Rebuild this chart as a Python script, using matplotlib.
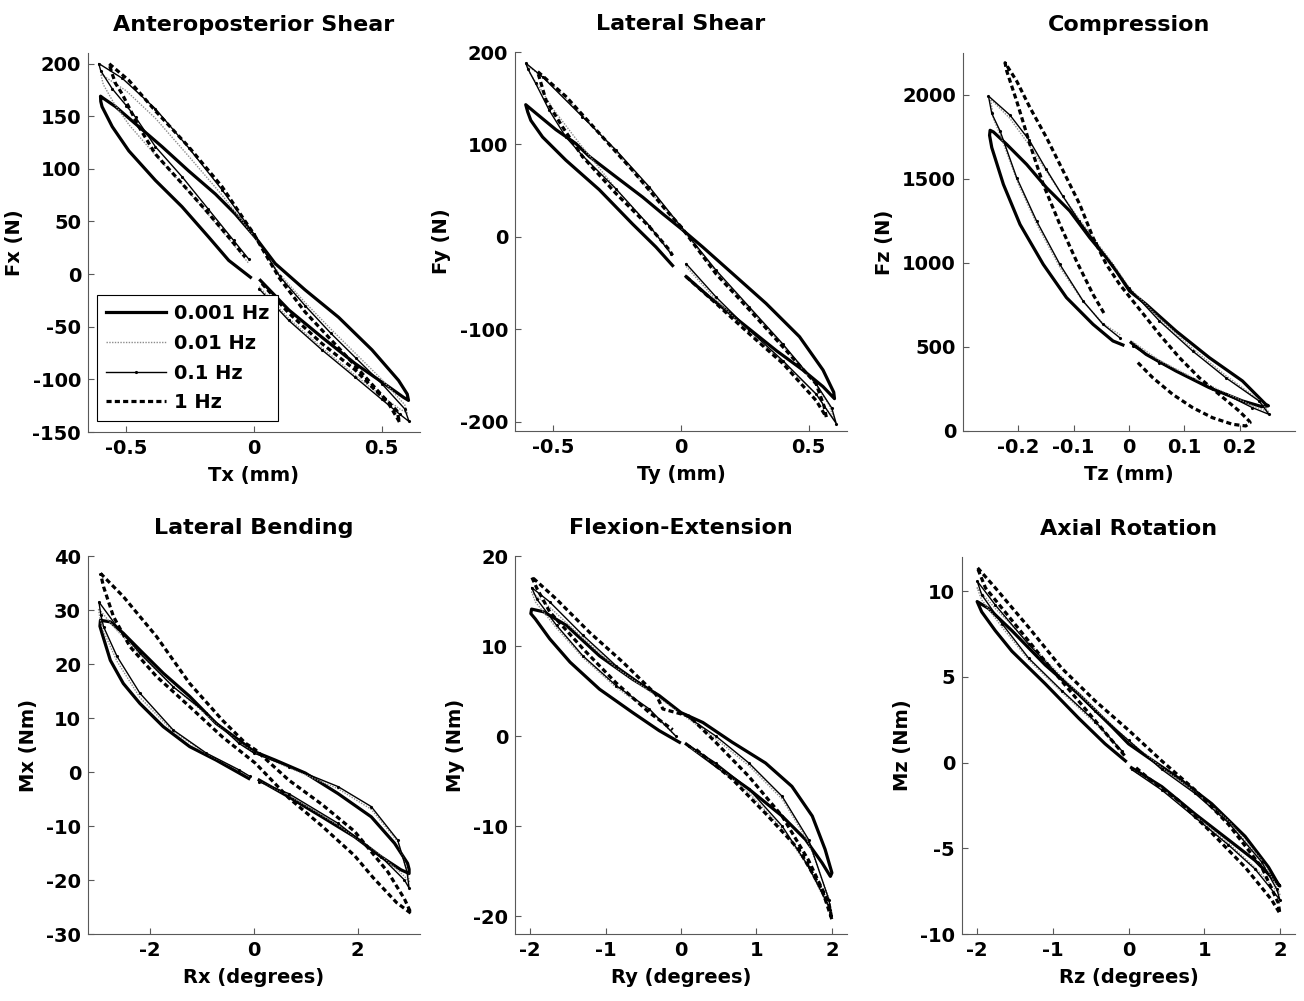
import matplotlib
matplotlib.use("Agg")
import matplotlib.pyplot as plt
from matplotlib.ticker import FuncFormatter

plt.rcParams["font.family"] = ["DejaVu Sans"]
plt.rcParams["font.weight"] = "bold"
plt.rcParams["axes.labelweight"] = "bold"
plt.rcParams["axes.titleweight"] = "bold"
plt.rcParams["axes.unicode_minus"] = False

freq_labels = ["0.001 Hz", "0.01 Hz", "0.1 Hz", "1 Hz"]

# each loop is listed along its path: + side lower branch out to the tip,
# back along the upper branch through 0, out to the - tip, back along the lower one

# ---- Anteroposterior shear: Tx (mm) vs Fx (N)
ap_x_0001 = [0.025, 0.136, 0.266, 0.396, 0.527, 0.585, 0.605,
             0.6, 0.566, 0.462, 0.331, 0.2, 0.083, 0.005,
             -0.073, -0.151, -0.256, -0.36, -0.451, -0.542, -0.59, -0.601,
             -0.6, -0.595, -0.555, -0.49, -0.386, -0.282, -0.177, -0.099, -0.014]
ap_y_0001 = [-6, -34, -60, -85, -107, -117, -120,
             -114, -101, -72, -41, -15, 10, 35,
             57, 76, 98, 121, 140, 159, 167, 169,
             164, 159, 140, 117, 89, 64, 35, 13, -3]
ap_x_001 = [0.02, 0.136, 0.266, 0.396, 0.5, 0.57, 0.6,
            0.59, 0.5, 0.4, 0.3, 0.2, 0.1, 0.0,
            -0.125, -0.256, -0.386, -0.5, -0.6,
            -0.59, -0.55, -0.49, -0.386, -0.28, -0.18, -0.08, -0.02]
ap_y_001 = [-12, -42, -70, -96, -116, -128, -132,
            -124, -100, -76, -52, -27, 0, 36,
            75, 112, 148, 174, 190,
            180, 163, 142, 113, 85, 57, 28, 10]
ap_x_01 = [0.02, 0.136, 0.266, 0.396, 0.5, 0.57, 0.607,
           0.59, 0.5, 0.4, 0.3, 0.2, 0.1, 0.0,
           -0.125, -0.256, -0.386, -0.516, -0.608,
           -0.6, -0.555, -0.5, -0.464, -0.386, -0.28, -0.18, -0.08, -0.02]
ap_y_01 = [-14, -44, -72, -98, -119, -133, -140,
           -128, -104, -80, -56, -30, -2, 38,
           80, 120, 157, 186, 200,
           193, 176, 160, 149, 121, 92, 62, 32, 14]
ap_x_1 = [0.031, 0.136, 0.266, 0.396, 0.527, 0.566, 0.57,
          0.56, 0.5, 0.4, 0.3, 0.2, 0.1, 0.03, 0.0,
          -0.034, -0.125, -0.256, -0.386, -0.49, -0.568,
          -0.555, -0.542, -0.516, -0.451, -0.386, -0.282, -0.19, -0.099, -0.034]
ap_y_1 = [-9, -37, -66, -91, -123, -139, -141,
          -130, -115, -88, -62, -36, -4, 25, 38,
          50, 83, 121, 155, 184, 200,
          190, 181, 171, 140, 114, 86, 61, 35, 16]

# ---- Lateral shear: Ty (mm) vs Fy (N)
ls_x_0001 = [0.02, 0.111, 0.242, 0.373, 0.477, 0.556, 0.601,
             0.598, 0.556, 0.464, 0.333, 0.203, 0.085, 0.0,
             -0.072, -0.15, -0.255, -0.359, -0.412, -0.49, -0.569, -0.608,
             -0.6, -0.588, -0.542, -0.451, -0.32, -0.19, -0.098, -0.033]
ls_y_0001 = [-43, -65, -94, -123, -144, -162, -175,
             -168, -144, -108, -72, -40, -11, 9,
             25, 43, 65, 87, 101, 116, 134, 143,
             135, 126, 108, 83, 51, 14, -11, -31]
ls_x_001 = [0.02, 0.137, 0.268, 0.399, 0.529, 0.6,
            0.58, 0.529, 0.399, 0.268, 0.137, 0.0,
            -0.124, -0.255, -0.386, -0.5, -0.6,
            -0.59, -0.55, -0.5, -0.4, -0.255, -0.124, -0.04]
ls_y_001 = [-32, -68, -104, -136, -170, -198,
            -182, -160, -118, -78, -38, 10,
            50, 92, 132, 164, 185,
            176, 160, 138, 102, 52, 12, -16]
ls_x_01 = [0.02, 0.137, 0.268, 0.399, 0.529, 0.608,
           0.59, 0.529, 0.399, 0.268, 0.137, 0.0,
           -0.124, -0.255, -0.386, -0.542, -0.608,
           -0.6, -0.569, -0.516, -0.451, -0.386, -0.255, -0.124, -0.04]
ls_y_01 = [-29, -65, -101, -134, -170, -202,
           -185, -159, -116, -76, -36, 11,
           54, 94, 130, 173, 188,
           182, 166, 137, 108, 88, 52, 12, -18]
ls_x_1 = [0.02, 0.137, 0.268, 0.399, 0.529, 0.569,
          0.56, 0.529, 0.399, 0.268, 0.137, 0.0,
          -0.059, -0.19, -0.32, -0.451, -0.562,
          -0.55, -0.529, -0.464, -0.386, -0.255, -0.124, -0.046, -0.033]
ls_y_1 = [-43, -72, -105, -137, -177, -195,
          -183, -159, -119, -79, -40, 11,
          29, 72, 112, 152, 179,
          168, 148, 119, 87, 47, 11, -14, -20]

# ---- Compression: Tz (mm) vs Fz (N)
cp_x_0001 = [0.004, 0.031, 0.085, 0.145, 0.205, 0.24, 0.252,
             0.247, 0.205, 0.145, 0.085, 0.031, 0.001,
             -0.023, -0.041, -0.071, -0.107, -0.149, -0.185, -0.221, -0.245, -0.251,
             -0.252, -0.248, -0.227, -0.197, -0.155, -0.113, -0.065, -0.029, -0.011]
cp_y_0001 = [526, 456, 357, 258, 179, 145, 150,
             159, 298, 437, 595, 754, 833,
             952, 1032, 1151, 1310, 1448, 1587, 1706, 1780, 1790,
             1760, 1687, 1468, 1230, 992, 794, 635, 536, 512]
cp_x_001 = [0.007, 0.055, 0.115, 0.175, 0.223, 0.252,
            0.235, 0.175, 0.115, 0.055, 0.0,
            -0.03, -0.06, -0.09, -0.12, -0.15, -0.18, -0.215, -0.25,
            -0.245, -0.23, -0.2, -0.165, -0.125, -0.083, -0.047, -0.015]
cp_y_001 = [530, 420, 318, 226, 150, 115,
            185, 330, 490, 670, 855,
            1000, 1130, 1260, 1400, 1550, 1700, 1860, 1975,
            1860, 1740, 1470, 1220, 975, 770, 640, 570]
cp_x_01 = [0.007, 0.055, 0.115, 0.175, 0.223, 0.253,
           0.235, 0.175, 0.115, 0.055, 0.0,
           -0.03, -0.06, -0.09, -0.12, -0.15, -0.18, -0.215, -0.254,
           -0.248, -0.233, -0.203, -0.167, -0.125, -0.083, -0.047, -0.017]
cp_y_01 = [506, 407, 308, 218, 139, 99,
           179, 317, 476, 655, 850,
           990, 1120, 1250, 1400, 1560, 1730, 1880, 1994,
           1890, 1786, 1508, 1250, 992, 774, 635, 556]
cp_x_1 = [0.016, 0.043, 0.079, 0.115, 0.151, 0.187, 0.211, 0.219,
          0.217, 0.199, 0.163, 0.127, 0.091, 0.055, 0.031, 0.007,
          -0.017, -0.041, -0.065, -0.089, -0.119, -0.149, -0.179, -0.203, -0.224,
          -0.221, -0.203, -0.179, -0.155, -0.125, -0.095, -0.065, -0.045]
cp_y_1 = [407, 317, 218, 139, 79, 40, 30, 50,
          60, 119, 218, 317, 437, 575, 675, 774,
          873, 992, 1151, 1349, 1548, 1746, 1925, 2083, 2192,
          2143, 1964, 1706, 1468, 1230, 1012, 813, 700]

# ---- Lateral bending: Rx (degrees) vs Mx (Nm)
lb_x_0001 = [0.1, 0.67, 1.31, 1.94, 2.45, 2.83, 2.99,
             2.99, 2.96, 2.71, 2.26, 1.62, 0.99, 0.41, 0.0,
             -0.29, -0.73, -1.24, -1.75, -2.2, -2.52, -2.77, -2.96,
             -2.97, -2.93, -2.77, -2.52, -2.2, -1.75, -1.24, -0.73, -0.1]
lb_y_0001 = [-1.5, -4.6, -8.3, -12.0, -15.7, -18.1, -18.8,
             -18.0, -16.9, -13.2, -8.3, -4.0, -0.2, 2.2, 3.8,
             5.9, 9.0, 14.0, 18.3, 22.6, 25.7, 27.8, 28.1,
             27.0, 25.7, 20.7, 16.4, 12.7, 8.4, 4.7, 2.2, -1.2]
lb_x_001 = [0.1, 0.67, 1.62, 2.45, 2.9, 3.0,
            2.95, 2.77, 2.26, 1.62, 0.67, 0.0,
            -0.29, -0.92, -1.56, -2.2, -2.64, -3.0,
            -2.97, -2.9, -2.64, -2.2, -1.56, -0.92, -0.29, -0.08]
lb_y_001 = [-1.7, -4.3, -9.8, -15.5, -19.3, -20.5,
            -18.2, -12.9, -6.9, -3.1, 0.8, 3.6,
            5.5, 10.6, 15.9, 21.8, 26.2, 30.3,
            28.5, 26.0, 20.5, 13.8, 7.5, 3.4, 0.4, -0.9]
lb_x_01 = [0.1, 0.67, 1.62, 2.45, 2.9, 2.99,
           2.95, 2.77, 2.26, 1.62, 0.67, 0.0,
           -0.29, -0.92, -1.56, -2.2, -2.64, -2.99,
           -2.95, -2.9, -2.64, -2.2, -1.56, -0.92, -0.29, -0.08]
lb_y_01 = [-1.8, -4.0, -9.5, -15.7, -20.0, -21.5,
           -18.5, -12.6, -6.4, -2.7, 1.0, 3.5,
           5.3, 10.9, 15.8, 22.0, 26.9, 31.5,
           29.0, 26.9, 21.4, 14.6, 7.8, 3.5, 0.4, -0.8]
# 1 Hz loop is closed (no gap near zero)
lb_x_1 = [-2.96, -2.52, -1.88, -1.24, -0.61, -0.16, 0.03,
          0.67, 1.31, 1.94, 2.58, 2.9, 3.03,
          2.75, 2.3, 1.94, 1.31, 0.67, 0.03,
          -0.61, -1.24, -1.88, -2.39, -2.71, -2.9, -2.96]
lb_y_1 = [36.8, 32.5, 25.1, 16.4, 9.6, 5.3, 4.1,
          -1.5, -6.0, -11.0, -18.5, -23.5, -26.2,
          -24.2, -19.6, -15.5, -10.0, -4.8, 1.6,
          6.5, 12.1, 17.7, 23.2, 28.8, 34.3, 36.8]

# ---- Flexion-extension: Ry (degrees) vs My (Nm)
fe_x_0001 = [0.07, 0.46, 0.9, 1.34, 1.65, 1.87, 1.98,
             2.0, 1.91, 1.74, 1.47, 1.12, 0.68, 0.29, 0.0,
             -0.29, -0.64, -1.08, -1.52, -1.82, -1.98,
             -1.99, -1.93, -1.74, -1.47, -1.08, -0.64, -0.29, -0.02]
fe_y_0001 = [-0.9, -3.3, -5.9, -8.9, -11.5, -14.1, -15.6,
             -15.2, -12.6, -8.9, -5.6, -3.0, -0.7, 1.5, 2.6,
             4.5, 6.3, 8.9, 12.3, 13.8, 14.1,
             13.6, 13.0, 10.8, 8.2, 5.2, 2.6, 0.6, -0.7]
fe_x_001 = [0.11, 0.46, 0.9, 1.34, 1.69, 2.0,
            1.96, 1.69, 1.34, 0.9, 0.46, 0.0,
            -0.42, -0.86, -1.3, -1.74, -1.98,
            -1.93, -1.65, -1.3, -0.86, -0.42, -0.07]
fe_y_001 = [-1.2, -3.2, -6.3, -10.3, -14.6, -19.8,
            -18.0, -11.8, -7.0, -3.3, -0.3, 2.5,
            5.0, 7.6, 10.9, 14.3, 16.0,
            14.9, 12.0, 8.7, 5.4, 2.8, 0.0]
fe_x_01 = [0.11, 0.46, 0.9, 1.34, 1.69, 1.98,
           1.96, 1.69, 1.34, 0.9, 0.46, 0.0,
           -0.42, -0.86, -1.3, -1.74, -1.98,
           -1.91, -1.65, -1.3, -0.86, -0.42, -0.07]
fe_y_01 = [-1.1, -3.0, -5.9, -10.0, -14.5, -19.3,
           -18.2, -11.5, -6.7, -3.0, 0.0, 2.6,
           5.2, 7.8, 11.2, 14.9, 16.5,
           15.2, 12.3, 8.9, 5.6, 3.0, 0.0]
fe_x_1 = [0.2, 0.68, 1.12, 1.56, 1.87, 2.0,
          1.96, 1.69, 1.34, 0.9, 0.46, 0.11,
          -0.24, -0.33, -0.77, -1.21, -1.65, -1.98,
          -1.91, -1.74, -1.3, -0.86, -0.42, -0.11]
fe_y_1 = [-1.5, -4.8, -8.6, -12.6, -17.1, -20.4,
          -18.6, -13.8, -8.9, -4.5, -0.7, 2.2,
          3.0, 4.6, 8.2, 11.5, 15.2, 17.7,
          16.4, 13.8, 9.7, 5.9, 2.6, 0.7]

# ---- Axial rotation: Rz (degrees) vs Mz (Nm)
ar_x_0001 = [0.04, 0.44, 0.88, 1.32, 1.67, 1.94, 2.0,
             1.98, 1.85, 1.54, 1.1, 0.66, 0.26, 0.0,
             -0.22, -0.66, -1.1, -1.54, -1.85, -2.0,
             -1.94, -1.76, -1.54, -1.1, -0.66, -0.31, -0.04]
ar_y_0001 = [-0.3, -1.4, -3.0, -4.5, -5.7, -6.9, -7.2,
             -7.1, -6.1, -4.3, -2.4, -0.9, 0.3, 1.1,
             2.1, 4.0, 5.7, 7.7, 9.0, 9.4,
             8.8, 7.7, 6.5, 4.6, 2.6, 1.1, 0.1]
ar_x_001 = [0.04, 0.44, 0.88, 1.32, 1.67, 2.0,
            1.96, 1.76, 1.32, 0.88, 0.44, 0.0,
            -0.44, -0.88, -1.32, -1.76, -2.0,
            -1.94, -1.67, -1.32, -0.88, -0.44, -0.09]
ar_y_001 = [-0.4, -1.5, -3.1, -4.7, -6.1, -7.7,
            -7.2, -5.7, -3.4, -1.7, -0.3, 1.3,
            3.1, 5.0, 7.0, 9.0, 10.2,
            9.5, 7.9, 6.0, 4.1, 2.3, 0.6]
ar_x_01 = [0.04, 0.44, 0.88, 1.32, 1.67, 2.0,
           1.96, 1.76, 1.32, 0.88, 0.44, 0.0,
           -0.44, -0.88, -1.32, -1.76, -2.0,
           -1.94, -1.67, -1.32, -0.88, -0.44, -0.09]
ar_y_01 = [-0.4, -1.6, -3.2, -4.8, -6.2, -8.0,
           -7.4, -5.8, -3.5, -1.8, -0.4, 1.3,
           3.0, 4.9, 6.9, 9.2, 10.6,
           9.8, 8.1, 6.1, 4.2, 2.4, 0.7]
ar_x_1 = [0.1, 0.26, 0.66, 1.1, 1.54, 1.89, 2.0,
          1.98, 1.76, 1.32, 0.88, 0.44, 0.0,
          -0.44, -0.88, -1.32, -1.76, -2.0,
          -1.89, -1.54, -1.1, -0.66, -0.22, -0.05]
ar_y_1 = [-0.3, -0.9, -2.2, -4.1, -6.1, -8.0, -8.8,
          -8.2, -6.1, -3.6, -1.6, 0.1, 1.9,
          3.6, 5.5, 7.9, 10.2, 11.4,
          10.2, 8.3, 5.9, 3.6, 1.3, 0.4]

# line styles for 0.001, 0.01, 0.1, 1 Hz
styles = [
    dict(color="black", lw=2.3, ls="-", solid_joinstyle="round"),
    dict(color="0.55", lw=1.0, ls=(0, (1, 1))),
    dict(color="black", lw=1.0, ls="-", marker=".", ms=2.5),
    dict(color="black", lw=2.3, ls=(0, (1.6, 1.0))),
]

panels = [
    ("Anteroposterior Shear", "Tx (mm)", "Fx (N)",
     [(ap_x_0001, ap_y_0001), (ap_x_001, ap_y_001), (ap_x_01, ap_y_01), (ap_x_1, ap_y_1)],
     (-0.65, 0.65), (-150, 210), [-0.5, 0, 0.5], range(-150, 201, 50),
     (88, 53, 420, 432)),
    ("Lateral Shear", "Ty (mm)", "Fy (N)",
     [(ls_x_0001, ls_y_0001), (ls_x_001, ls_y_001), (ls_x_01, ls_y_01), (ls_x_1, ls_y_1)],
     (-0.65, 0.65), (-210, 200), [-0.5, 0, 0.5], range(-200, 201, 100),
     (515, 52, 847, 431)),
    ("Compression", "Tz (mm)", "Fz (N)",
     [(cp_x_0001, cp_y_0001), (cp_x_001, cp_y_001), (cp_x_01, cp_y_01), (cp_x_1, cp_y_1)],
     (-0.3, 0.3), (0, 2250), [-0.2, -0.1, 0, 0.1, 0.2], range(0, 2001, 500),
     (963, 53, 1295, 431)),
    ("Lateral Bending", "Rx (degrees)", "Mx (Nm)",
     [(lb_x_0001, lb_y_0001), (lb_x_001, lb_y_001), (lb_x_01, lb_y_01), (lb_x_1, lb_y_1)],
     (-3.2, 3.2), (-30, 40), [-2, 0, 2], range(-30, 41, 10),
     (88, 556, 420, 934)),
    ("Flexion-Extension", "Ry (degrees)", "My (Nm)",
     [(fe_x_0001, fe_y_0001), (fe_x_001, fe_y_001), (fe_x_01, fe_y_01), (fe_x_1, fe_y_1)],
     (-2.2, 2.2), (-22, 20), [-2, -1, 0, 1, 2], range(-20, 21, 10),
     (515, 556, 847, 934)),
    ("Axial Rotation", "Rz (degrees)", "Mz (Nm)",
     [(ar_x_0001, ar_y_0001), (ar_x_001, ar_y_001), (ar_x_01, ar_y_01), (ar_x_1, ar_y_1)],
     (-2.2, 2.2), (-10, 12), [-2, -1, 0, 1, 2], range(-10, 11, 5),
     (962, 557, 1295, 934)),
]

W, H = 1304, 1001
fig = plt.figure(figsize=(W / 100, H / 100), dpi=100)
fmt = FuncFormatter(lambda v, p: "%g" % v)

for i, (title, xl, yl, series, xlim, ylim, xt, yt, box) in enumerate(panels):
    l, t, r, b = box
    ax = fig.add_axes([l / W, 1 - b / H, (r - l) / W, (b - t) / H])
    for (xs, ys), st, lab in zip(series, styles, freq_labels):
        ax.plot(xs, ys, label=lab, **st)
    ax.set_xlim(xlim)
    ax.set_ylim(ylim)
    ax.set_xticks(xt)
    ax.set_yticks(list(yt))
    ax.xaxis.set_major_formatter(fmt)
    ax.yaxis.set_major_formatter(fmt)
    ax.spines["top"].set_visible(False)
    ax.spines["right"].set_visible(False)
    for s in ("left", "bottom"):
        ax.spines[s].set_color("0.35")
        ax.spines[s].set_linewidth(0.8)
    ax.tick_params(direction="in", length=4, width=0.8, color="0.35",
                   labelsize=14, pad=5)
    ax.set_title(title, fontsize=16, fontweight="bold", pad=16)
    ax.set_xlabel(xl, fontsize=14, fontweight="bold", labelpad=6)
    ax.set_ylabel(yl, fontsize=14, fontweight="bold", labelpad=6)
    if i == 0:
        leg = ax.legend(loc="lower left", bbox_to_anchor=(0.027, 0.029),
                        borderaxespad=0, fancybox=False, framealpha=1,
                        edgecolor="black", fontsize=14, handlelength=3.1,
                        handletextpad=0.4, labelspacing=0.55, borderpad=0.45)
        leg.get_frame().set_linewidth(0.8)

fig.savefig("out.png", dpi=100)
